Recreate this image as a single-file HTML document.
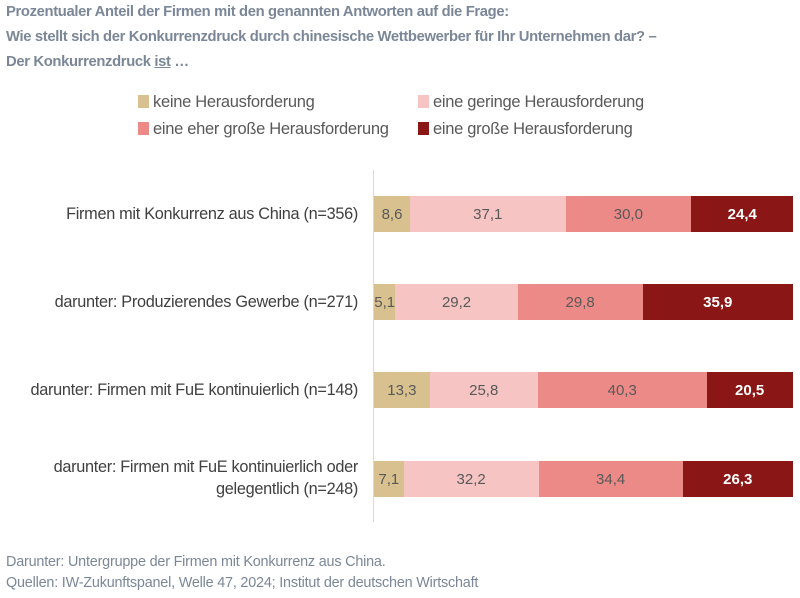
<!DOCTYPE html><html><head><style>
body{margin:0;width:800px;height:598px;background:#fff;font-family:"Liberation Sans",sans-serif;position:relative;overflow:hidden}
.t{position:absolute;left:6px;color:#7b8797;font-weight:bold;font-size:14.8px;letter-spacing:-0.35px;line-height:18px}
.lg{position:absolute;font-size:16.5px;color:#595959;letter-spacing:-0.3px;line-height:18px}
.lg i{display:inline-block;width:11px;height:13px;margin-right:4px;vertical-align:-1px}
.lab{position:absolute;right:442px;text-align:right;font-size:16.3px;color:#404040;line-height:22px;letter-spacing:-0.3px;white-space:nowrap}
.bar{position:absolute;left:374px;height:36px;display:flex}
.bar div{height:100%;display:flex;align-items:center;justify-content:center;font-size:15px;color:#595959}
.a{background:#d9c08f}.b{background:#f5c4c3}.c{background:#ec8a87}.d{background:#8a1716;color:#fff!important;font-weight:bold}
.f{position:absolute;left:6px;font-size:14.4px;color:#7b8797;letter-spacing:-0.2px}
</style></head><body>
<div class="t" style="top:3px">Prozentualer Anteil der Firmen mit den genannten Antworten auf die Frage:</div>
<div class="t" style="top:28px">Wie stellt sich der Konkurrenzdruck durch chinesische Wettbewerber für Ihr Unternehmen dar? –</div>
<div class="t" style="top:53px">Der Konkurrenzdruck <u>ist</u> …</div>
<div class="lg" style="left:138px;top:93px"><i style="background:#d9c08f"></i>keine Herausforderung</div>
<div class="lg" style="left:418px;top:93px"><i style="background:#f5c4c3"></i>eine geringe Herausforderung</div>
<div class="lg" style="left:138px;top:120px"><i style="background:#ec8a87"></i>eine eher große Herausforderung</div>
<div class="lg" style="left:418px;top:120px"><i style="background:#8a1716"></i>eine große Herausforderung</div>
<div style="position:absolute;left:373px;top:170px;width:1px;height:352px;background:#d9d9d9"></div>
<div class="lab" style="top:203px">Firmen mit Konkurrenz aus China (n=356)</div>
<div class="lab" style="top:291px">darunter: Produzierendes Gewerbe (n=271)</div>
<div class="lab" style="top:379px">darunter: Firmen mit FuE kontinuierlich (n=148)</div>
<div class="lab" style="top:456px">darunter: Firmen mit FuE kontinuierlich oder<br>gelegentlich (n=248)</div>
<div class="bar" style="top:196px"><div class="a" style="width:36px">8,6</div><div class="b" style="width:155.5px">37,1</div><div class="c" style="width:125.7px">30,0</div><div class="d" style="width:102.2px">24,4</div></div>
<div class="bar" style="top:284px"><div class="a" style="width:21.4px">5,1</div><div class="b" style="width:122.3px">29,2</div><div class="c" style="width:124.9px">29,8</div><div class="d" style="width:150.4px">35,9</div></div>
<div class="bar" style="top:372px"><div class="a" style="width:55.7px">13,3</div><div class="b" style="width:108.1px">25,8</div><div class="c" style="width:168.9px">40,3</div><div class="d" style="width:85.9px">20,5</div></div>
<div class="bar" style="top:461px"><div class="a" style="width:29.7px">7,1</div><div class="b" style="width:134.9px">32,2</div><div class="c" style="width:144.1px">34,4</div><div class="d" style="width:110.2px">26,3</div></div>
<div class="f" style="top:554px">Darunter: Untergruppe der Firmen mit Konkurrenz aus China.</div>
<div class="f" style="top:575px">Quellen: IW-Zukunftspanel, Welle 47, 2024; Institut der deutschen Wirtschaft</div>
</body></html>
